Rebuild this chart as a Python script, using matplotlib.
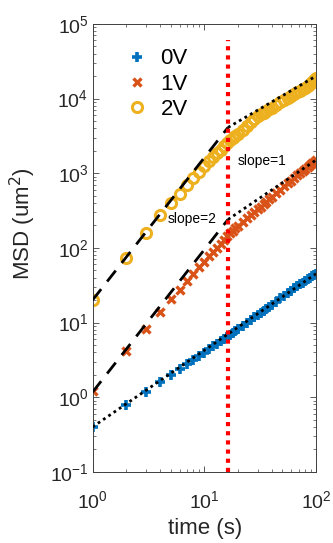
import numpy as np
import matplotlib
matplotlib.use("Agg")
import matplotlib.pyplot as plt
from matplotlib.ticker import LogLocator, NullFormatter

plt.rcParams['font.family'] = ['Liberation Sans', 'DejaVu Sans']

# lag times (s)
t = [1, 2, 3, 4, 5, 6, 7, 8, 9, 10, 11, 12, 13, 14, 15, 16, 17, 18, 19, 20,
     22, 24, 26, 28, 30, 32, 34, 36, 38, 40,
     44, 48, 52, 56, 60, 64, 68, 72, 76, 80, 84, 88, 92, 96, 100]

# MSD values (um^2)
msd_0v = [0.40, 0.78, 1.17, 1.58, 1.98, 2.37, 2.76, 3.15, 3.55, 3.95,
          4.36, 4.78, 5.2, 5.62, 6.05, 6.48, 6.9, 7.33, 7.76, 8.2,
          9.05, 9.9, 10.8, 11.7, 12.6, 13.5, 14.4, 15.3, 16.3, 17.2,
          19.1, 21.0, 22.9, 24.8, 26.7, 28.6, 30.5, 32.4, 34.3, 36.2,
          38.1, 40.0, 41.9, 43.6, 45.0]
msd_1v = [1.2, 4.1, 8.3, 14, 20.5, 27.5, 36, 45, 55, 65,
          77, 88, 100, 113, 127, 145, 158, 170, 183, 196,
          222, 248, 275, 302, 330, 358, 387, 416, 446, 476,
          537, 600, 664, 730, 797, 865, 934, 1004, 1075, 1146,
          1218, 1291, 1364, 1435, 1500]
msd_2v = [20, 74, 160, 275, 405, 520, 700, 870, 1050, 1250,
          1480, 1650, 1850, 2050, 2300, 2550, 2750, 2950, 3150, 3350,
          3810, 4290, 4780, 5280, 5790, 6150, 6500, 6850, 7200, 7550,
          8250, 8950, 9600, 10250, 10900, 11500, 12100, 12700, 13300, 13900,
          14700, 15600, 16600, 17800, 19000]

# guide lines: dashed (slope 2) and dotted (slope 1)
t_cross = 16.3
dash_t = [1, t_cross]
dash_1v = [1.17, 240]
dash_2v = [20, 4100]
dot_t = [t_cross, 100]
dot_1v = [240, 1500]
dot_2v = [4100, 20000]
dot0_t = [1, 100]
dot0_v = [0.4, 45]
red_y = [0.1, 60000]

blue = '#0072BD'
orange = '#D95319'
yellow = '#EDB120'

fig = plt.figure(figsize=(3.33, 5.43), dpi=100)
ax = fig.add_axes([0.278, 0.131, 0.671, 0.825])

ax.plot(t, msd_0v, '+', color=blue, ms=7, mew=2.6, label='0V', zorder=2)
ax.plot(t, msd_1v, 'x', color=orange, ms=5.5, mew=2.4, label='1V', zorder=2)
ax.plot(t, msd_2v, 'o', color=yellow, mfc='none', ms=7.3, mew=2.2, label='2V', zorder=2)

ax.plot(dot0_t, dot0_v, color='k', lw=2, ls=(0, (1, 1.3)), zorder=3)
ax.plot(dash_t, dash_1v, color='k', lw=2, ls=(0, (5, 3.5)), zorder=3)
ax.plot(dash_t, dash_2v, color='k', lw=2, ls=(0, (5, 3.5)), zorder=3)
ax.plot(dot_t, dot_1v, color='k', lw=2, ls=(0, (1, 1.3)), zorder=3)
ax.plot(dot_t, dot_2v, color='k', lw=2, ls=(0, (1, 1.3)), zorder=3)
ax.plot([t_cross, t_cross], red_y, color='red', lw=3, ls=(0, (1, 1.2)),
        solid_capstyle='butt', dash_capstyle='butt', zorder=4)

ax.text(20, 1450, 'slope=1', fontsize=10, va='center', ha='left', color='k')
ax.text(4.7, 245, 'slope=2', fontsize=10, va='center', ha='left', color='k')

ax.set_xscale('log')
ax.set_yscale('log')
ax.set_xlim(1, 100)
ax.set_ylim(0.1, 1e5)
ax.yaxis.set_major_locator(LogLocator(base=10, numticks=10))
ax.yaxis.set_minor_locator(LogLocator(base=10, subs=np.arange(2, 10), numticks=20))
ax.yaxis.set_minor_formatter(NullFormatter())
ax.xaxis.set_minor_formatter(NullFormatter())
ax.tick_params(which='both', direction='in', top=True, right=True,
               colors='#404040', labelcolor='#262626', labelsize=14)
ax.tick_params(which='major', length=4, width=0.6)
ax.tick_params(which='minor', length=2.5, width=0.5)
ax.tick_params(axis='x', which='major', pad=13)
ax.tick_params(axis='y', which='major', pad=3)
for s in ax.spines.values():
    s.set_color('#404040')
    s.set_linewidth(0.7)

ax.set_xlabel('time (s)', fontsize=16, color='#262626')
ax.set_ylabel('MSD (um$^2$)', fontsize=16, color='#262626')
ax.xaxis.set_label_coords(0.503, -0.103)
ax.yaxis.set_label_coords(-0.245, 0.554)

ax.legend(loc='upper left', bbox_to_anchor=(0.06, 0.99), frameon=False,
          fontsize=16, handlelength=1.0, handletextpad=0.55, labelspacing=0.2)

fig.savefig('out.png', dpi=100)
